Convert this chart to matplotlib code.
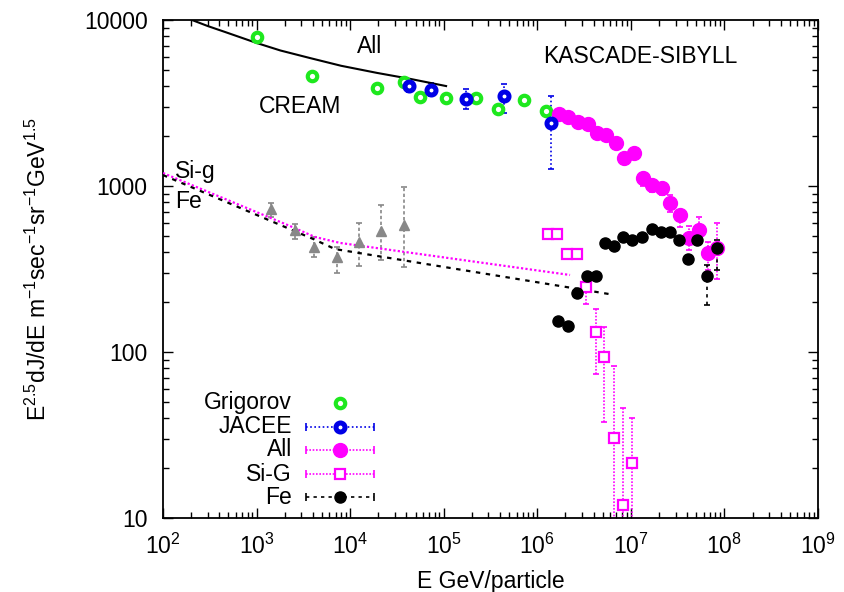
import matplotlib
matplotlib.use("Agg")
import matplotlib.pyplot as plt
from matplotlib.ticker import LogLocator, FuncFormatter, NullFormatter, LogFormatterMathtext

plt.rcParams['font.family'] = ['Liberation Sans', 'DejaVu Sans']
plt.rcParams['mathtext.fontset'] = 'custom'
plt.rcParams['mathtext.rm'] = 'Liberation Sans'
plt.rcParams['mathtext.it'] = 'Liberation Sans:italic'
plt.rcParams['mathtext.bf'] = 'Liberation Sans:bold'

FS = 16.5

# ---- data: energy (GeV/particle) and E^2.5 dJ/dE ----
grig_e = [1.01e3, 3.9e3, 1.94e4, 3.77e4, 5.58e4, 1.06e5, 2.21e5, 3.80e5, 7.21e5, 1.24e6]
grig_f = [7910, 4600, 3890, 4240, 3435, 3390, 3390, 2910, 3300, 2830]

jacee_e = [4.26e4, 7.31e4, 1.73e5, 4.40e5, 1.40e6]
jacee_f = [4000, 3790, 3340, 3480, 2400]
jacee_lo = [3680, 3480, 2910, 2750, 1265]
jacee_hi = [4360, 4170, 3840, 4110, 3480]

all_e = [1.71e6, 2.13e6, 2.72e6, 3.48e6, 4.35e6, 5.42e6, 6.93e6, 8.45e6, 1.08e7,
         1.35e7, 1.68e7, 2.15e7, 2.62e7, 3.35e7, 4.18e7, 5.35e7, 6.67e7, 8.32e7]
all_f = [2716, 2606, 2432, 2363, 2084, 2028, 1815, 1475, 1580,
         1117, 1014, 973, 790, 669, 486, 543, 394, 423]
all_lo = [2716, 2606, 2432, 2363, 2084, 2028, 1815, 1475, 1580,
          1000, 920, 883, 697, 566, 411, 454, 312, 275]
all_hi = [2716, 2606, 2432, 2363, 2084, 2028, 1815, 1475, 1580,
          1197, 1087, 1042, 883, 717, 574, 651, 460, 599]

sig_e = [1.30e6, 1.63e6, 2.08e6, 2.65e6, 3.32e6, 4.24e6, 5.16e6, 6.61e6, 8.24e6, 1.03e7]
sig_f = [514, 514, 389, 389, 246, 132, 93.3, 30.3, 12.0, 21.4]
sig_lo = [514, 514, 389, 389, 194, 73.6, 37.8, 1, 1, 1]
sig_hi = [514, 514, 389, 389, 262, 182, 142, 82.4, 46, 40]

fe_e = [1.66e6, 2.13e6, 2.65e6, 3.40e6, 4.24e6, 5.28e6, 6.59e6, 8.23e6, 1.03e7,
        1.31e7, 1.68e7, 2.10e7, 2.62e7, 3.27e7, 4.08e7, 5.10e7, 6.52e7, 8.34e7]
fe_f = [154, 144, 226, 287, 287, 454, 435, 493, 473,
        493, 551, 528, 528, 473, 363, 473, 287, 423]
fe_lo = [154, 144, 226, 287, 287, 454, 435, 493, 473,
         493, 551, 528, 528, 473, 363, 473, 192, 312]
fe_hi = [154, 144, 226, 287, 287, 454, 435, 493, 473,
         493, 551, 528, 528, 473, 363, 473, 334, 473]

tri_e = [1.43e3, 2.58e3, 4.11e3, 7.24e3, 1.24e4, 2.14e4, 3.77e4]
tri_f = [726, 543, 429, 374, 460, 535, 582]
tri_lo = [651, 479, 374, 299, 330, 358, 325]
tri_hi = [790, 590, 493, 429, 599, 769, 986]

# model curves
all_line_e = [204, 300, 460, 700, 1010, 1800, 3720, 8000, 1.94e4, 4.37e4, 1.06e5]
all_line_f = [10000, 9200, 8470, 7800, 7260, 6550, 5900, 5300, 4800, 4420, 4000]
sig_line_e = [100, 2275, 4210, 7800, 2.24e6]
sig_line_f = [1197, 574, 493, 454, 291]
fe_line_e = [100, 4010, 6890, 5.98e6]
fe_line_f = [1164, 480, 417, 223]

GREEN = '#1ee81e'
BLUE = '#0000e6'
MAG = '#ff00ff'
GRAY = '#888888'

fig = plt.figure(figsize=(8.45, 5.92), dpi=100)
ax = fig.add_axes([163 / 845, 74 / 592, 655 / 845, 498 / 592])
ax.set_xscale('log')
ax.set_yscale('log')
ax.set_xlim(1e2, 1e9)
ax.set_ylim(10, 1e4)


def yerr(f, lo, hi):
    return [[v - l for v, l in zip(f, lo)], [h - v for v, h in zip(f, hi)]]


def ebar(x, f, lo, hi, color, ls):
    c = ax.errorbar(x, f, yerr=yerr(f, lo, hi), fmt='none', ecolor=color,
                    elinewidth=1.2, capsize=2.5, capthick=1.2, zorder=2)
    for lc in c[2]:
        lc.set_linestyle(ls)
    return c


# curves
ax.plot(all_line_e, all_line_f, color='black', lw=1.5, zorder=3)
ax.plot(sig_line_e, sig_line_f, color=MAG, lw=1.6, ls=(0, (1, 1)), zorder=3)
ax.plot(fe_line_e, fe_line_f, color='black', lw=1.6, ls=(0, (2, 2.5)), zorder=3)

# gray triangles
ebar(tri_e, tri_f, tri_lo, tri_hi, GRAY, (0, (2, 1.5)))
ax.plot(tri_e, tri_f, ls='none', marker='^', ms=7, color=GRAY, mec=GRAY, zorder=4)

# Grigorov
ax.plot(grig_e, grig_f, ls='none', marker='o', ms=6.8, mfc='white', mec=GREEN, mew=3.0, zorder=5)

# JACEE
ebar(jacee_e, jacee_f, jacee_lo, jacee_hi, BLUE, (0, (1, 1.5)))
ax.plot(jacee_e, jacee_f, ls='none', marker='o', ms=6.5, mfc='white', mec=BLUE, mew=3.6, zorder=6)

# All-particle
ebar(all_e, all_f, all_lo, all_hi, MAG, (0, (1, 1)))
ax.plot(all_e, all_f, ls='none', marker='o', ms=10, color=MAG, zorder=5)

# Si-G
ebar(sig_e, sig_f, sig_lo, sig_hi, MAG, (0, (1, 1)))
ax.plot(sig_e, sig_f, ls='none', marker='s', ms=6.5, mfc='white', mec=MAG, mew=1.6, zorder=5)

# Fe
ebar(fe_e, fe_f, fe_lo, fe_hi, 'black', (0, (2, 2.5)))
ax.plot(fe_e, fe_f, ls='none', marker='o', ms=8, color='black', zorder=6)

# annotations
ax.text(0.316, 0.946, 'All', transform=ax.transAxes, ha='center', va='center', fontsize=FS)
ax.text(0.209, 0.827, 'CREAM', transform=ax.transAxes, ha='center', va='center', fontsize=FS)
ax.text(0.728, 0.926, 'KASCADE-SIBYLL', transform=ax.transAxes, ha='center', va='center', fontsize=FS)
ax.text(0.018, 0.695, 'Si-g', transform=ax.transAxes, ha='left', va='center', fontsize=FS)
ax.text(0.018, 0.635, 'Fe', transform=ax.transAxes, ha='left', va='center', fontsize=FS)

# key
key_rows = [
    ('Grigorov', GREEN, 'o', 6.8, 'white', 3.0, None),
    ('JACEE', BLUE, 'o', 6.5, 'white', 3.6, (0, (1, 1.5))),
    ('All', MAG, 'o', 10, MAG, 1, (0, (1, 1))),
    ('Si-G', MAG, 's', 6.5, 'white', 1.6, (0, (1, 1))),
    ('Fe', 'black', 'o', 8, 'black', 1, (0, (2, 2.5))),
]
key_y = [0.231, 0.183, 0.137, 0.088, 0.042]
x_txt, x0, x1, xm = 0.197, 0.218, 0.322, 0.270
for (lab, col, mk, ms, mfc, mew, ls), yk in zip(key_rows, key_y):
    ax.text(x_txt, yk, lab, transform=ax.transAxes, ha='right', va='center', fontsize=FS)
    if ls is not None:
        ax.plot([x0, x1], [yk, yk], transform=ax.transAxes, color=col, lw=1.2, ls=ls, zorder=7)
        ax.plot([x0, x1], [yk, yk], transform=ax.transAxes, color=col, ls='none',
                marker='|', ms=6, mew=1.2, zorder=7)
    ax.plot([xm], [yk], transform=ax.transAxes, marker=mk, ms=ms, mfc=mfc, mec=col, mew=mew,
            color=col, ls='none', zorder=8)

# axes styling
for s in ax.spines.values():
    s.set_linewidth(1.3)
ax.xaxis.set_major_locator(LogLocator(base=10, numticks=20))
ax.xaxis.set_minor_locator(LogLocator(base=10, subs=range(2, 10), numticks=20))
ax.yaxis.set_major_locator(LogLocator(base=10, numticks=20))
ax.yaxis.set_minor_locator(LogLocator(base=10, subs=range(2, 10), numticks=20))
ax.xaxis.set_major_formatter(LogFormatterMathtext())
ax.xaxis.set_minor_formatter(NullFormatter())
ax.yaxis.set_major_formatter(FuncFormatter(lambda v, p: f'{v:g}'))
ax.yaxis.set_minor_formatter(NullFormatter())
ax.tick_params(which='both', direction='in', top=True, right=True, labelsize=FS, width=1)
ax.tick_params(which='major', length=7)
ax.tick_params(which='minor', length=4)
ax.tick_params(axis='x', which='major', pad=11)
ax.tick_params(axis='y', which='major', pad=11)

ax.set_xlabel('E GeV/particle', fontsize=FS, labelpad=8)
ax.set_ylabel(r'E$^{2.5}$dJ/dE m$^{-1}$sec$^{-1}$sr$^{-1}$GeV$^{1.5}$', fontsize=FS, labelpad=24)

fig.savefig('out.png', dpi=100)
